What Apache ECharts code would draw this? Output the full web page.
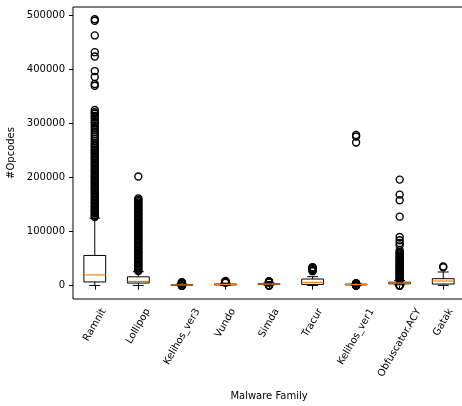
<!DOCTYPE html>
<html>
<head>
<meta charset="utf-8">
<script src="https://cdn.jsdelivr.net/npm/echarts@6/dist/echarts.min.js"></script>
<style>
  html, body { margin: 0; padding: 0; background: #fff; }
  #chart { width: 462px; height: 406px; }
</style>
</head>
<body>
<div id="chart"></div>
<script>
var categories = ['Ramnit', 'Lollipop', 'Kelihos_ver3', 'Vundo', 'Simda', 'Tracur', 'Kelihos_ver1', 'Obfuscator.ACY', 'Gatak'];

// [low whisker, Q1, median, Q3, high whisker]
var boxStats = [
  [500, 7000, 20000, 56000, 125000],
  [500, 5000, 8000, 16500, 26000],
  [300, 800, 1500, 2200, 3300],
  [500, 1500, 2500, 3200, 4800],
  [1200, 2200, 3000, 3700, 5200],
  [500, 2400, 6100, 12400, 16700],
  [1100, 1600, 2300, 2900, 3600],
  [1500, 3500, 5000, 6500, 9500],
  [500, 3100, 8700, 13000, 25400]
];

var ramnitOut = [127000, 129500, 131000, 134000, 136500, 138000, 141000, 143500, 146000, 148000,
  151000, 153500, 156000, 159000, 161500, 164000, 167000, 169500, 172000, 175000, 178000, 180500,
  183000, 186000, 189000, 191500, 194000, 197000, 200000, 202500, 205000, 208000, 211000, 213500,
  216000, 219000, 222000, 224500, 227000, 230000, 233000, 235500, 238000, 241000, 244000, 246500,
  249000, 252000, 255000, 258000, 261000, 264000, 268000, 272000, 276000, 280000, 284000, 288000,
  292000, 296000, 300000, 303000, 307000, 311000, 314000, 318000, 321000, 325000,
  370000, 373000, 386000, 397000, 424000, 432000, 463000, 490000, 493000];
var lollipopOut = [27000, 29000, 31500, 34000, 36500, 39000, 41500, 44000, 46500, 49000, 51500,
  54000, 56500, 59000, 61500, 64000, 66500, 69000, 71500, 74000, 76500, 79000, 81500, 84000,
  86500, 89000, 91500, 94000, 96500, 99000, 101500, 104000, 106500, 109000, 111500, 114000,
  116500, 119000, 121500, 124000, 126500, 129000, 131500, 134000, 136500, 139000, 141500,
  144000, 146500, 149000, 151500, 154000, 156500, 159000, 161500, 202000];
var kelihos3Out = [0, 60, 120, 180, 240, 3600, 4000, 4400, 4800, 5200, 5600, 6000, 6500];
var vundoOut = [5600, 6200, 6800, 7400, 8000, 9000];
var simdaOut = [0, 300, 600, 900, 5800, 6300, 6800, 7300, 7800, 8300];
var tracurOut = [26900, 27900, 28900, 29900, 30900, 31900, 32900, 33700, 34300];
var kelihos1Out = [0, 200, 400, 600, 800, 4000, 4300, 4600, 265000, 276000, 279000];
var obfuscatorOut = [0, 200, 400, 700, 1000, 10500, 12000, 14000, 16000, 18000, 20000, 22000, 24000,
  26000, 28000, 30000, 32000, 34000, 36000, 38000, 40000, 42000, 44000, 46000, 48000,
  50000, 52000, 54000, 56000, 58000, 60000, 62000, 65400, 74600, 79000, 84000, 90200,
  127800, 158000, 168500, 196300];
var gatakOut = [34000, 35700];

var outliers = [ramnitOut, lollipopOut, kelihos3Out, vundoOut, simdaOut, tracurOut,
  kelihos1Out, obfuscatorOut, gatakOut];

var yMin = -24550, yMax = 515550;
var yTicks = [0, 100000, 200000, 300000, 400000, 500000];

var FONT = '"DejaVu Sans", sans-serif';
var measureCtx = document.createElement('canvas').getContext('2d');
measureCtx.font = '10px ' + FONT;

var boxData = boxStats.map(function (s, i) { return [i].concat(s); });
var flierData = [];
outliers.forEach(function (arr, i) {
  arr.forEach(function (v) { flierData.push([i, v]); });
});
var labelData = categories.map(function (c, i) { return [i, yMin]; });

function renderBox(params, api) {
  var i = api.value(0);
  var lo = api.coord([i, api.value(1)]);
  var q1 = api.coord([i, api.value(2)]);
  var med = api.coord([i, api.value(3)]);
  var q3 = api.coord([i, api.value(4)]);
  var hi = api.coord([i, api.value(5)]);
  var band = api.size([1, 0])[0];
  var hw = band * 0.25, cw = band * 0.125;
  var x = lo[0];
  var black = { stroke: '#000', lineWidth: 1, fill: null };
  return {
    type: 'group',
    children: [
      { type: 'line', shape: { x1: x, y1: lo[1], x2: x, y2: q1[1] }, style: black },
      { type: 'line', shape: { x1: x, y1: q3[1], x2: x, y2: hi[1] }, style: black },
      { type: 'line', shape: { x1: x - cw, y1: lo[1], x2: x + cw, y2: lo[1] }, style: black },
      { type: 'line', shape: { x1: x - cw, y1: hi[1], x2: x + cw, y2: hi[1] }, style: black },
      { type: 'rect', shape: { x: x - hw, y: q3[1], width: hw * 2, height: q1[1] - q3[1] }, style: black },
      { type: 'line', shape: { x1: x - hw, y1: med[1], x2: x + hw, y2: med[1] },
        style: { stroke: '#ff7f0e', lineWidth: 1.2 } }
    ]
  };
}

function renderLabel(params, api) {
  var i = api.value(0);
  var pt = api.coord([i, api.value(1)]);
  var text = categories[i];
  var L = measureCtx.measureText(text).width;
  // matplotlib style: rotated label bbox centred under the tick
  return {
    type: 'text',
    x: pt[0] + L / 4,
    y: pt[1] + 7.5 + 3,
    rotation: Math.PI / 3,
    style: {
      text: text,
      x: 0,
      y: 0,
      align: 'right',
      verticalAlign: 'middle',
      font: '10px ' + FONT,
      fill: '#000'
    }
  };
}

var chart = echarts.init(document.getElementById('chart'));
var option = {
  backgroundColor: '#fff',
  animation: false,
  textStyle: { fontFamily: FONT },
  grid: {
    left: 73,
    right: -3,
    top: 7,
    bottom: 107,
    containLabel: false,
    outerBoundsMode: 'none',
    show: true,
    borderColor: '#000',
    borderWidth: 1,
    backgroundColor: 'transparent'
  },
  xAxis: {
    type: 'category',
    data: categories,
    boundaryGap: true,
    name: 'Malware Family',
    nameLocation: 'middle',
    nameGap: 92,
    nameTextStyle: { color: '#000', fontSize: 10, fontFamily: FONT },
    axisLine: { show: false },
    axisTick: { show: true, alignWithLabel: true, interval: 0, length: 4, lineStyle: { color: '#000' } },
    axisLabel: { show: false },
    splitLine: { show: false }
  },
  yAxis: {
    type: 'value',
    min: yMin,
    max: yMax,
    name: '#Opcodes',
    nameLocation: 'middle',
    nameGap: 56,
    nameTextStyle: { color: '#000', fontSize: 10, fontFamily: FONT },
    axisLine: { show: false },
    axisTick: { show: true, length: 4, lineStyle: { color: '#000' }, customValues: yTicks },
    axisLabel: {
      color: '#000', fontSize: 10, fontFamily: FONT, margin: 8, customValues: yTicks,
      formatter: function (v) { return String(v); }
    },
    splitLine: { show: false }
  },
  series: [
    {
      type: 'scatter',
      data: flierData,
      symbol: 'circle',
      symbolSize: 7,
      itemStyle: { color: 'rgba(0,0,0,0)', borderColor: '#000', borderWidth: 1.4, opacity: 1 },
      silent: true,
      z: 2
    },
    {
      type: 'custom',
      data: boxData,
      renderItem: renderBox,
      encode: { x: 0, y: [1, 2, 3, 4, 5] },
      silent: true,
      z: 3
    },
    {
      type: 'custom',
      data: labelData,
      renderItem: renderLabel,
      encode: { x: 0, y: 1 },
      clip: false,
      silent: true,
      z: 4
    }
  ]
};
chart.setOption(option);
</script>
</body>
</html>
